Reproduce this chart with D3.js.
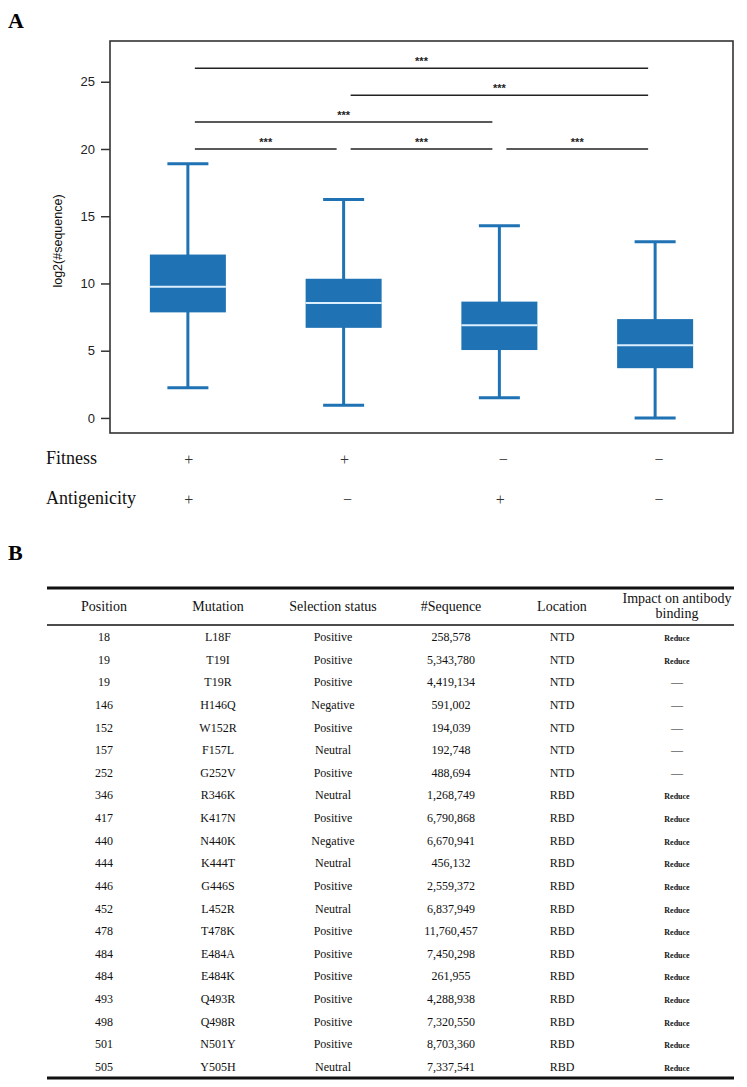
<!DOCTYPE html>
<html>
<head>
<meta charset="utf-8">
<script src="https://cdn.jsdelivr.net/npm/d3@7"></script>
<style>
  body { margin: 0; background: #fff; }
</style>
</head>
<body>
<div id="chart"></div>
<script>
// Panel A data: box plot summaries per group
var groups = ['g1', 'g2', 'g3', 'g4'];
var whiskerLow = [2.25, 0.95, 1.5, 0.0];
var q1 = [7.85, 6.7, 5.05, 3.7];
var medians = [9.75, 8.55, 6.9, 5.4];
var q3 = [12.15, 10.35, 8.65, 7.35];
var whiskerHigh = [18.9, 16.25, 14.3, 13.1];
var fitness = ['+', '+', '\u2212', '\u2212'];
var antigenicity = ['+', '\u2212', '+', '\u2212'];
var yTicks = [0, 5, 10, 15, 20, 25];

// significance brackets: [from group, to group, level]
var sigPairs = [[0, 3, 26], [1, 3, 24], [0, 2, 22], [0, 1, 20], [1, 2, 20], [2, 3, 20]];

// Panel B table
var headers = ['Position', 'Mutation', 'Selection status', '#Sequence', 'Location', 'Impact on antibody binding'];
var positions = [18, 19, 19, 146, 152, 157, 252, 346, 417, 440, 444, 446, 452, 478, 484, 484, 493, 498, 501, 505];
var mutations = ['L18F', 'T19I', 'T19R', 'H146Q', 'W152R', 'F157L', 'G252V', 'R346K', 'K417N', 'N440K',
  'K444T', 'G446S', 'L452R', 'T478K', 'E484A', 'E484K', 'Q493R', 'Q498R', 'N501Y', 'Y505H'];
var statuses = ['Positive', 'Positive', 'Positive', 'Negative', 'Positive', 'Neutral', 'Positive', 'Neutral', 'Positive', 'Negative',
  'Neutral', 'Positive', 'Neutral', 'Positive', 'Positive', 'Positive', 'Positive', 'Positive', 'Positive', 'Neutral'];
var sequences = [258578, 5343780, 4419134, 591002, 194039, 192748, 488694, 1268749, 6790868, 6670941,
  456132, 2559372, 6837949, 11760457, 7450298, 261955, 4288938, 7320550, 8703360, 7337541];
var locations = ['NTD', 'NTD', 'NTD', 'NTD', 'NTD', 'NTD', 'NTD', 'RBD', 'RBD', 'RBD',
  'RBD', 'RBD', 'RBD', 'RBD', 'RBD', 'RBD', 'RBD', 'RBD', 'RBD', 'RBD'];
var impacts = ['Reduce', 'Reduce', '\u2014', '\u2014', '\u2014', '\u2014', '\u2014', 'Reduce', 'Reduce', 'Reduce',
  'Reduce', 'Reduce', 'Reduce', 'Reduce', 'Reduce', 'Reduce', 'Reduce', 'Reduce', 'Reduce', 'Reduce'];

var W = 747, H = 1087;
var svg = d3.select('#chart').append('svg')
    .attr('width', W)
    .attr('height', H);

var serif = '"Liberation Serif", "Times New Roman", serif';
var sans = '"Liberation Sans", Arial, sans-serif';
var blue = '#1f72b3';

// ---------- Panel A ----------
var frame = {left: 110, right: 733, top: 41, bottom: 433};

svg.append('text')
    .text('A')
    .attr('x', 8)
    .attr('y', 28)
    .attr('font-family', serif)
    .attr('font-weight', 'bold')
    .attr('font-size', '22px');

var x = d3.scaleBand()
    .domain(groups)
    .range([frame.left, frame.right])
    .padding(0);

var y = d3.scaleLinear()
    .domain([-1.12, 28.03])
    .range([frame.bottom, frame.top]);

var boxW = 76, capW = 41;

var yAxis = svg.append('g')
    .attr('transform', 'translate(' + frame.left + ',0)')
    .call(d3.axisLeft(y).tickValues(yTicks).tickSize(9).tickPadding(6));
yAxis.select('.domain').remove();
yAxis.selectAll('line').attr('stroke', '#333').attr('stroke-width', 1.5);
yAxis.selectAll('text')
    .attr('font-family', sans)
    .attr('font-size', '13px')
    .attr('fill', '#222');

svg.append('text')
    .text('log2(#sequence)')
    .attr('text-anchor', 'middle')
    .attr('font-family', sans)
    .attr('font-size', '12.5px')
    .attr('fill', '#111')
    .attr('transform', 'translate(62,' + ((frame.top + frame.bottom) / 2 + 4) + ')rotate(-90)');

var boxes = svg.append('g');
groups.forEach(function(gname, i) {
    var cx = x(gname) + x.bandwidth() / 2;
    // whisker line
    boxes.append('line')
        .attr('x1', cx).attr('x2', cx)
        .attr('y1', y(whiskerLow[i])).attr('y2', y(whiskerHigh[i]))
        .attr('stroke', blue).attr('stroke-width', 3);
    // caps
    [whiskerLow[i], whiskerHigh[i]].forEach(function(v) {
        boxes.append('line')
            .attr('x1', cx - capW / 2).attr('x2', cx + capW / 2)
            .attr('y1', y(v)).attr('y2', y(v))
            .attr('stroke', blue).attr('stroke-width', 3);
    });
    // box
    boxes.append('rect')
        .attr('x', cx - boxW / 2)
        .attr('y', y(q3[i]))
        .attr('width', boxW)
        .attr('height', y(q1[i]) - y(q3[i]))
        .style('fill', blue);
    // median
    boxes.append('line')
        .attr('x1', cx - boxW / 2).attr('x2', cx + boxW / 2)
        .attr('y1', y(medians[i])).attr('y2', y(medians[i]))
        .attr('stroke', '#dcefff').attr('stroke-width', 2);
});

// significance lines
var sig = svg.append('g');
sigPairs.forEach(function(p) {
    var xa = x(groups[p[0]]) + x.bandwidth() / 2 + 7;
    var xb = x(groups[p[1]]) + x.bandwidth() / 2 - 7;
    sig.append('line')
        .attr('x1', xa).attr('x2', xb)
        .attr('y1', y(p[2])).attr('y2', y(p[2]))
        .attr('stroke', '#222').attr('stroke-width', 1.5);
    sig.append('text')
        .text('***')
        .attr('x', (xa + xb) / 2)
        .attr('y', y(p[2]) - 3)
        .attr('text-anchor', 'middle')
        .attr('font-family', sans)
        .attr('font-weight', 'bold')
        .attr('font-size', '11px')
        .attr('fill', '#222');
});

// frame
svg.append('rect')
    .attr('x', frame.left)
    .attr('y', frame.top)
    .attr('width', frame.right - frame.left)
    .attr('height', frame.bottom - frame.top)
    .attr('fill', 'none')
    .attr('stroke', '#333')
    .attr('stroke-width', 1.6);

// condition labels under the plot
var rowsA = [['Fitness', fitness, 464], ['Antigenicity', antigenicity, 504]];
rowsA.forEach(function(r) {
    svg.append('text')
        .text(r[0])
        .attr('x', 46)
        .attr('y', r[2])
        .attr('font-family', serif)
        .attr('font-size', '18px')
        .attr('fill', '#111');
    r[1].forEach(function(s, i) {
        svg.append('text')
            .text(s)
            .attr('x', x(groups[i]) + x.bandwidth() / 2 + (s === '+' ? 1 : 4))
            .attr('y', r[2] + 1)
            .attr('text-anchor', 'middle')
            .attr('font-family', serif)
            .attr('font-size', '16px')
            .attr('fill', '#333');
    });
});

// ---------- Panel B ----------
svg.append('text')
    .text('B')
    .attr('x', 8)
    .attr('y', 560)
    .attr('font-family', serif)
    .attr('font-weight', 'bold')
    .attr('font-size', '22px');

var tbl = {left: 47, right: 734, top: 588, headBottom: 625, firstRow: 637, rowH: 22.63};
var colCenters = [104, 218, 333, 451, 562, 677];

svg.append('line')
    .attr('x1', tbl.left).attr('x2', tbl.right)
    .attr('y1', tbl.top).attr('y2', tbl.top)
    .attr('stroke', '#111').attr('stroke-width', 3);
svg.append('line')
    .attr('x1', tbl.left).attr('x2', tbl.right)
    .attr('y1', tbl.headBottom).attr('y2', tbl.headBottom)
    .attr('stroke', '#111').attr('stroke-width', 1.3);

headers.forEach(function(h, i) {
    var t = svg.append('text')
        .attr('text-anchor', 'middle')
        .attr('font-family', serif)
        .attr('font-size', '14px')
        .attr('fill', '#111');
    if (i === 5) {
        t.append('tspan').attr('x', colCenters[i]).attr('y', 603).text('Impact on antibody');
        t.append('tspan').attr('x', colCenters[i]).attr('y', 618).text('binding');
    } else {
        t.attr('x', colCenters[i]).attr('y', 611).text(h);
    }
});

var fmt = d3.format(',');
var rowY = d3.scaleLinear()
    .domain([0, positions.length - 1])
    .range([tbl.firstRow, tbl.firstRow + tbl.rowH * (positions.length - 1)]);

positions.forEach(function(p, i) {
    var cells = [p, mutations[i], statuses[i], fmt(sequences[i]), locations[i], impacts[i]];
    cells.forEach(function(c, j) {
        var small = (j === 5 && c === 'Reduce');
        svg.append('text')
            .text(c)
            .attr('x', colCenters[j])
            .attr('y', rowY(i) + 4)
            .attr('text-anchor', 'middle')
            .attr('font-family', serif)
            .attr('font-size', small ? '8px' : '12px')
            .attr('font-weight', small ? 'bold' : 'normal')
            .attr('fill', '#111');
    });
});

svg.append('line')
    .attr('x1', tbl.left).attr('x2', tbl.right)
    .attr('y1', 1078).attr('y2', 1078)
    .attr('stroke', '#111').attr('stroke-width', 3);
</script>
</body>
</html>
